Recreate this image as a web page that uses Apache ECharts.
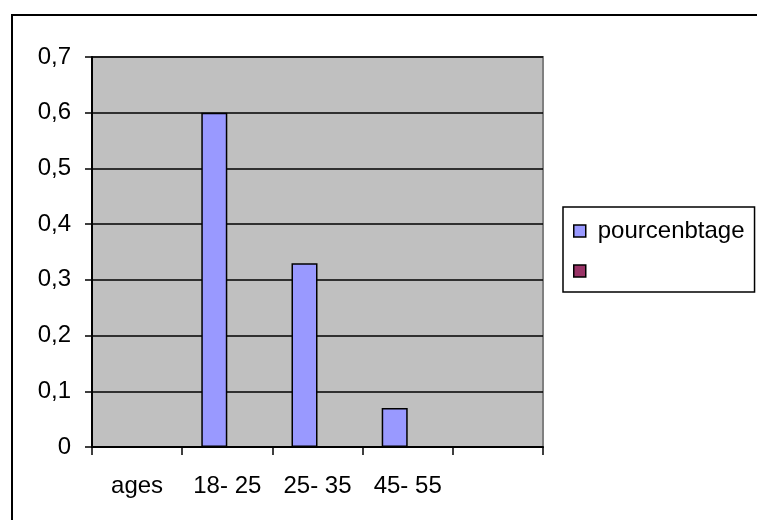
<!DOCTYPE html>
<html lang="fr">
    <head>
        <meta charset="UTF-8" />
        <title>pourcenbtage</title>
        <style>
            * {
                box-sizing: border-box;
                margin: 0;
                padding: 0;
            }
            body {
                background: #fff;
            }
            #chart {
                width: 757px;
                height: 520px;
            }
        </style>
    </head>
    <body>
        <div id="chart"></div>
        <script src="https://cdn.jsdelivr.net/npm/echarts@6/dist/echarts.min.js"></script>
        <script>
            // données
            var categories = ['ages', '18- 25', '25- 35', '45- 55', '']
            var pourcentage = [null, 0.6, 0.33, 0.07, null]
            var serieVide = [null, null, null, null, null]
            var yLabels = ['0', '0,1', '0,2', '0,3', '0,4', '0,5', '0,6', '0,7']

            var font = 'Liberation Sans'
            var chart = echarts.init(document.getElementById('chart'))
            chart.setOption({
                animation: false,
                textStyle: { fontFamily: font },
                // cadre extérieur (coupé à droite et en bas)
                graphic: [
                    {
                        type: 'rect',
                        shape: { x: 12, y: 15, width: 900, height: 700 },
                        style: { fill: 'none', stroke: '#000', lineWidth: 2 },
                        silent: true
                    }
                ],
                grid: {
                    left: 92,
                    top: 57,
                    right: 214,
                    bottom: 73,
                    containLabel: false,
                    outerBoundsMode: 'none',
                    show: true,
                    backgroundColor: '#C0C0C0',
                    borderColor: '#808080',
                    borderWidth: 2
                },
                legend: {
                    left: 563,
                    top: 207,
                    orient: 'vertical',
                    padding: [12, 10, 9, 10],
                    itemGap: 16,
                    itemWidth: 12,
                    itemHeight: 12,
                    icon: 'rect',
                    borderColor: '#000',
                    borderWidth: 1.5,
                    itemStyle: { borderColor: '#000', borderWidth: 1.5 },
                    textStyle: {
                        fontFamily: font,
                        fontSize: 24,
                        color: '#000',
                        padding: [0, 0, 0, 7]
                    },
                    data: ['pourcenbtage', ' ']
                },
                xAxis: {
                    type: 'category',
                    data: categories,
                    boundaryGap: true,
                    axisLine: { lineStyle: { color: '#000', width: 2 } },
                    axisTick: {
                        show: true,
                        length: 8,
                        interval: 0,
                        lineStyle: { color: '#000', width: 1.5 }
                    },
                    axisLabel: {
                        interval: 0,
                        margin: 27,
                        color: '#000',
                        fontFamily: font,
                        fontSize: 24
                    },
                    splitLine: { show: false }
                },
                yAxis: {
                    type: 'value',
                    min: 0,
                    max: 0.7,
                    interval: 0.1,
                    axisLine: { show: true, lineStyle: { color: '#000', width: 2 } },
                    axisTick: {
                        show: true,
                        length: 7,
                        lineStyle: { color: '#000', width: 1.5 }
                    },
                    axisLabel: {
                        margin: 21,
                        color: '#000',
                        fontFamily: font,
                        fontSize: 24,
                        formatter: function (v) {
                            return yLabels[Math.round(v * 10)]
                        }
                    },
                    splitLine: { show: true, lineStyle: { color: '#000', width: 1.5 } }
                },
                series: [
                    {
                        name: 'pourcenbtage',
                        type: 'bar',
                        data: pourcentage,
                        barWidth: 26,
                        barGap: '0%',
                        itemStyle: { color: '#9999FF', borderColor: '#000', borderWidth: 1.5 }
                    },
                    {
                        name: ' ',
                        type: 'bar',
                        data: serieVide,
                        barWidth: 26,
                        barGap: '0%',
                        itemStyle: { color: '#993366', borderColor: '#000', borderWidth: 1.5 }
                    }
                ]
            })
        </script>
    </body>
</html>
